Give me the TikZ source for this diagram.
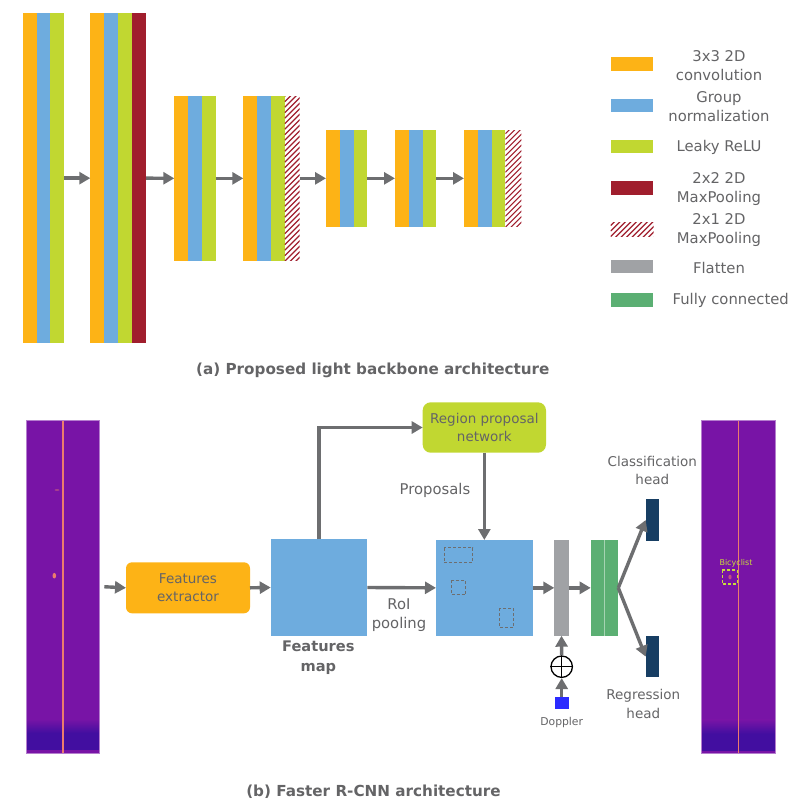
\documentclass[tikz,border=0pt]{standalone}
\usepackage{fontspec}
\setmainfont{DejaVu Sans}
\usepackage{xcolor}
\definecolor{convc}{HTML}{FDB316}
\definecolor{normc}{HTML}{6EACDE}
\definecolor{reluc}{HTML}{C1D731}
\definecolor{poolc}{HTML}{A01E2D}
\definecolor{flatc}{HTML}{A0A2A5}
\definecolor{fcc}{HTML}{5BAF73}
\definecolor{headc}{HTML}{173E63}
\definecolor{arrowc}{HTML}{6D6E70}
\definecolor{textc}{HTML}{646466}
\definecolor{dopc}{HTML}{2B2BFF}
\definecolor{specc}{HTML}{7814A6}
\definecolor{specdark}{HTML}{420EA0}
\definecolor{specline}{HTML}{EC7C6C}
\definecolor{bikec}{HTML}{C8DC3C}
\usepackage{tikz}
\usetikzlibrary{positioning,calc}
\usetikzlibrary{arrows.meta}
\tikzset{>={Triangle[length=11pt,width=12pt]}}
\tikzset{
  box/.style={inner sep=0pt,outer sep=0pt,anchor=north west},
  flow/.style={draw=arrowc,line width=3.4pt,->},
  hatch/.style={path picture={
    \foreach \k in {-50,-44.5,...,340}
      \draw[poolc,line width=1.2pt] ($(path picture bounding box.south west)+(0,-\k)$) -- ++(60,-60);}},
  lbl/.style={text=textc,align=center,font=\fontsize{13.5}{18.5}\selectfont},
  keylbl/.style={text=textc,align=center,font=\fontsize{14.8}{19}\selectfont},
  capt/.style={text=textc,font=\fontsize{15.2}{18}\selectfont\bfseries},
  roibox/.style={draw=arrowc,line width=1pt,dash pattern=on 3pt off 2pt}
}
\newcommand{\convblock}[4]{%
  \node[box,minimum width=41.4pt,minimum height=#4pt] (#1) at (#2,#3) {};
  \fill[convc] (#1.north west) rectangle ++(13.8,#4);
  \fill[normc] ($(#1.north west)+(13.8,0)$) rectangle ++(13.8,#4);
  \fill[reluc] ($(#1.north west)+(27.6,0)$) rectangle ++(13.8,#4);
}
\newcommand{\spectro}[4]{%
  \node[box,fill=specc,minimum width=#4pt,minimum height=333pt] (#1) at (#2,#3) {};
  \shade[top color=specc,bottom color=specdark] ($(#1.south west)+(0,-34)$) rectangle ($(#1.south east)+(0,-20)$);
  \fill[specdark] ($(#1.south west)+(0,-20)$) rectangle ($(#1.south east)+(0,-3)$);
  \draw[specline,line width=1.2pt] (#1.north) -- (#1.south);
  \draw[draw=specc!55!white,line width=0.8pt] (#1.north west) rectangle (#1.south east);
}

\begin{document}
\begin{tikzpicture}[x=1pt,y=-1pt]
\useasboundingbox (0,0) rectangle (792,808);

\convblock{b1}{22.7}{13.3}{329.7}
\convblock{b2}{90.3}{13.3}{329.7}
\node[box,fill=poolc,minimum width=14.5pt,minimum height=329.7pt] (p2) at (b2.north east) {};
\convblock{b3}{174.3}{96}{164.7}
\convblock{b4}{243.3}{96}{164.7}
\node[box,hatch,minimum width=15pt,minimum height=164.7pt] (p4) at (b4.north east) {};
\convblock{b5}{326}{130}{96.7}
\convblock{b6}{395}{130}{96.7}
\convblock{b7}{464}{130}{96.7}
\node[box,hatch,minimum width=16pt,minimum height=96.7pt] (p7) at (b7.north east) {};

\draw[flow] (b1.east) -- (b2.west);
\draw[flow] (p2.east) -- (b3.west);
\draw[flow] (b3.east) -- (b4.west);
\draw[flow] (p4.east) -- (b5.west);
\draw[flow] (b5.east) -- (b6.west);
\draw[flow] (b6.east) -- (b7.west);

\node[box,fill=convc,minimum width=42pt,minimum height=13.4pt] (key1) at (610.7,57.3) {};
\node[box,fill=normc,minimum width=42pt,minimum height=13.4pt] (key2) at (610.7,98.6) {};
\node[box,fill=reluc,minimum width=42pt,minimum height=13.4pt] (key3) at (610.7,140) {};
\node[box,fill=poolc,minimum width=42pt,minimum height=13.4pt] (key4) at (610.7,181.3) {};
\node[box,hatch,minimum width=43pt,minimum height=13.4pt] (key5) at (610.7,222.6) {};
\node[box,fill=flatc,minimum width=42pt,minimum height=13.4pt] (key6) at (610.7,260) {};
\node[box,fill=fcc,minimum width=42pt,minimum height=13.4pt] (key7) at (610.7,293.3) {};
\node[keylbl] (key1l) at (719,65.2) {3x3 2D\\convolution};
\node[keylbl] (key2l) at (719,106.7) {Group\\normalization};
\node[keylbl] (key3l) at (719,147.3) {Leaky ReLU};
\node[keylbl] (key4l) at (719,189.3) {2x2 2D\\MaxPooling};
\node[keylbl] (key5l) at (719,230) {2x1 2D\\MaxPooling};
\node[keylbl] (key6l) at (719,267.7) {Flatten};
\node[keylbl,anchor=west] (key7l) at (669,300) {Fully connected};

\node[capt] (capa) at (372.8,370) {(a) Proposed light backbone architecture};

\spectro{spec1}{26.7}{420}{72.6}
\fill[specline] (54.3,575.7) ellipse (1.8 and 2.8);
\fill[specline!50!specc] (57,490) ellipse (2.5 and 0.8);
\spectro{spec2}{701.7}{420.7}{73.6}
\fill[specline!60!specc] (730,577) ellipse (1.6 and 2.4);
\draw[bikec,line width=1.2pt,dash pattern=on 3pt off 2pt] (722.3,570) rectangle (737.3,584);
\node[text=bikec,font=\fontsize{8}{9}\selectfont] (bike) at (736,563) {Bicyclist};

\node[box,fill=convc,rounded corners=6pt,minimum width=124pt,minimum height=51pt,lbl] (ext) at (126,562.3) {Features\\extractor};
\node[box,fill=normc,minimum width=96.6pt,minimum height=96.4pt] (fmap) at (270.7,539.3) {};
\node[capt,align=center,font=\fontsize{14.6}{20}\selectfont\bfseries] (fmapl) at (318.3,658) {Features\\map};
\node[box,fill=reluc,rounded corners=8pt,minimum width=123.3pt,minimum height=50.4pt,lbl] (rpn) at (422.7,402.3) {Region proposal\\network};
\node[box,fill=normc,minimum width=96.7pt,minimum height=95.7pt] (roi) at (436,540) {};
\draw[roibox] (444,547.7) rectangle (472.7,562.3);
\draw[roibox] (451,580.3) rectangle (465.7,594.7);
\draw[roibox] (499.3,608.3) rectangle (513.7,627.3);
\node[box,fill=flatc,minimum width=14.4pt,minimum height=95.7pt] (flat) at (554.3,540) {};
\node[box,fill=fcc,minimum width=27.6pt,minimum height=95.7pt] (fc) at (590.7,540) {};
\draw[fcc!55!white,line width=0.8pt] (fc.north) -- (fc.south);
\node[box,fill=headc,minimum width=13.6pt,minimum height=41.4pt] (chead) at (645.7,499.3) {};
\node[box,fill=headc,minimum width=13.6pt,minimum height=41.3pt] (rhead) at (645.7,636) {};
\node[circle,draw=black,line width=1.3pt,minimum size=21.4pt,inner sep=0pt] (plus) at (561.7,666.7) {};
\draw[black,line width=1.3pt] (plus.north) -- (plus.south) (plus.west) -- (plus.east);
\node[box,fill=dopc,minimum width=14pt,minimum height=12.3pt] (dop) at (554.7,696.7) {};

\node[keylbl] (propl) at (435,490.7) {Proposals};
\node[keylbl] (pooll) at (399,615.5) {RoI\\pooling};
\node[lbl] (cheadl) at (652.3,470.5) {Classification\\head};
\node[lbl] (rheadl) at (643.3,704.2) {Regression\\head};
\node[text=textc,font=\fontsize{10.8}{12}\selectfont] (dopl) at (561.7,722.3) {Doppler};

\draw[flow,shorten <=5pt] (spec1.east) -- (ext.west);
\draw[flow] (ext.east) -- (fmap.west);
\draw[flow] (fmap.north) |- (rpn.west);
\draw[flow] (rpn.south) -- (roi.north);
\draw[flow] (fmap.east) -- (roi.west);
\draw[flow] (roi.east) -- (flat.west);
\draw[flow] (flat.east) -- (fc.west);
\draw[flow] (fc.east) -- (chead.west);
\draw[flow] (fc.east) -- (rhead.west);
\draw[flow] (dop.north) -- (plus.south);
\draw[flow] (plus.north) -- (flat.south);

\node[capt] (capb) at (373.5,792) {(b) Faster R-CNN architecture};
\end{tikzpicture}
\end{document}
